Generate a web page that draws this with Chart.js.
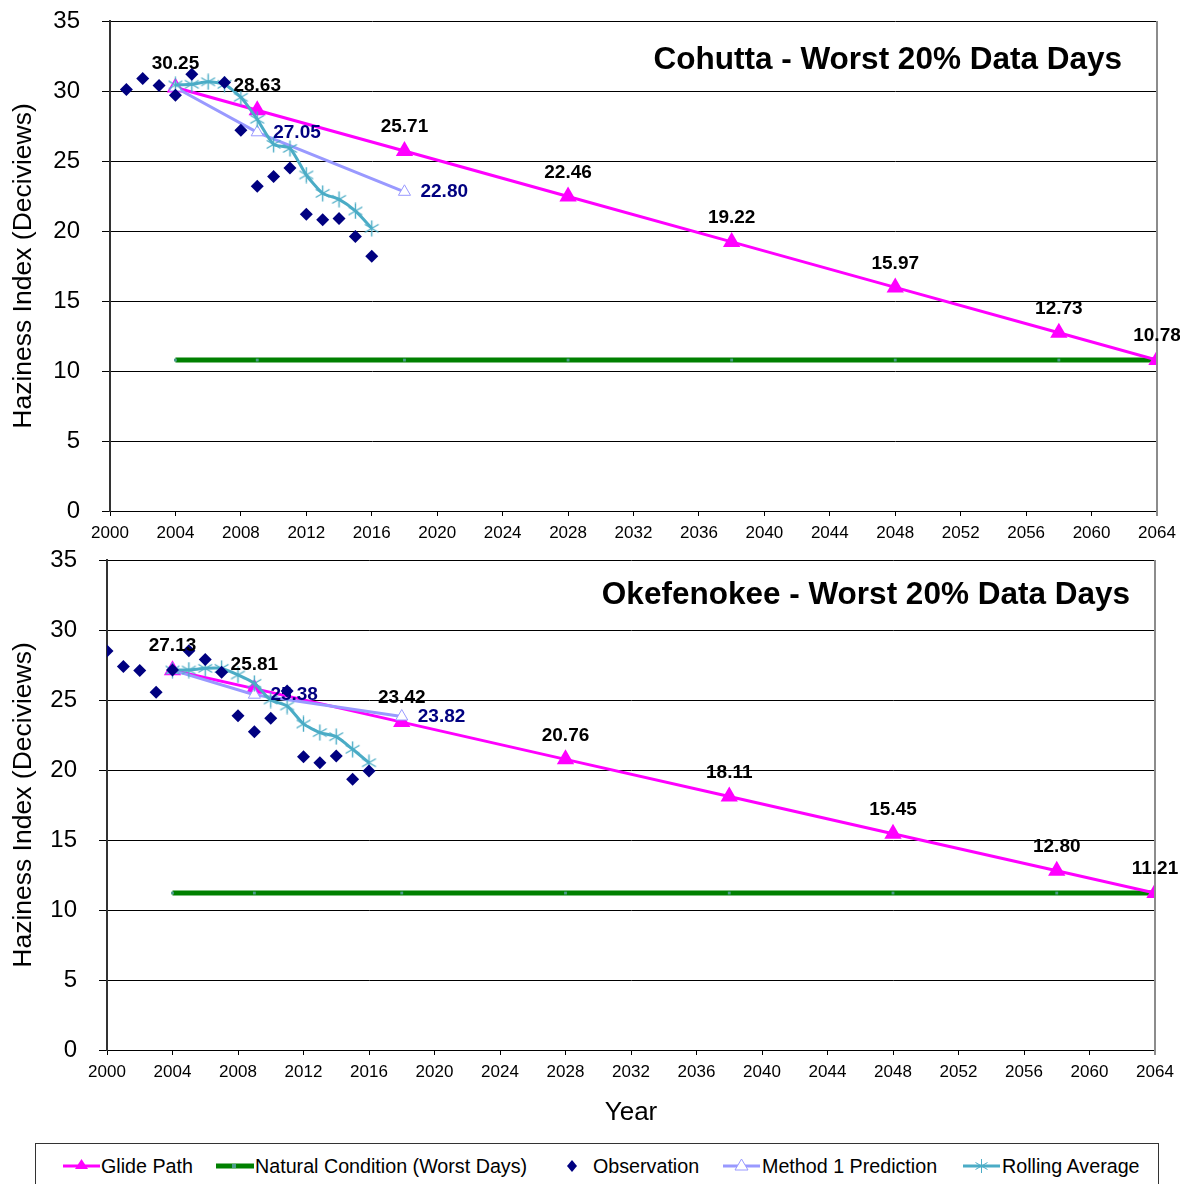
<!DOCTYPE html>
<html>
<head>
<meta charset="utf-8">
<script src="https://cdn.jsdelivr.net/npm/chart.js@4"></script>
<style>
  body { margin: 0; background: #fff; font-family: "Liberation Sans", Arial, sans-serif; }
  #wrap { position: relative; width: 1180px; height: 1184px; overflow: hidden; }
  .panel { position: absolute; left: 0; width: 1180px; }
  #legend { position: absolute; left: 35px; top: 1143px; width: 1124px; height: 60px;
            border: 1px solid #333; box-sizing: border-box; }
  .item { position: absolute; top: 10px; height: 24px; font-size: 19.7px; line-height: 24px; white-space: nowrap; }
  .item svg { position: absolute; left: 0; top: 0; }
  .item span { position: absolute; top: 0; }
</style>
</head>
<body>
<div id="wrap">
  <div class="panel" style="top:0;height:545px"><canvas id="topChart"></canvas></div>
  <div class="panel" style="top:545px;height:590px"><canvas id="bottomChart"></canvas></div>
  <div id="legend">
    <div class="item" style="left:26px">
      <svg width="40" height="24"><line x1="1" y1="12" x2="38" y2="12" stroke="#ff00ff" stroke-width="3"/><polygon points="19.5,5 26,15 13,15" fill="#ff00ff"/></svg>
      <span style="left:39px">Glide Path</span>
    </div>
    <div class="item" style="left:180px">
      <svg width="40" height="24"><line x1="0" y1="12" x2="38" y2="12" stroke="#008000" stroke-width="5"/><rect x="16" y="10" width="4" height="4" fill="#4c9c8c"/></svg>
      <span style="left:39px">Natural Condition (Worst Days)</span>
    </div>
    <div class="item" style="left:520px">
      <svg width="40" height="24"><polygon points="16,6 21,12 16,18 11,12" fill="#000080"/></svg>
      <span style="left:37px">Observation</span>
    </div>
    <div class="item" style="left:686px">
      <svg width="40" height="24"><line x1="1" y1="12" x2="38" y2="12" stroke="#9999ff" stroke-width="3"/><polygon points="19.5,5 26,16 13,16" fill="#fff" stroke="#9999ff" stroke-width="1"/></svg>
      <span style="left:40px">Method 1 Prediction</span>
    </div>
    <div class="item" style="left:926px">
      <svg width="40" height="24"><line x1="1" y1="12" x2="38" y2="12" stroke="#4bacc6" stroke-width="3"/>
        <g stroke="#4bacc6" stroke-width="1"><line x1="19.5" y1="5" x2="19.5" y2="19"/><line x1="13.5" y1="8.5" x2="25.5" y2="15.5"/><line x1="13.5" y1="15.5" x2="25.5" y2="8.5"/></g></svg>
      <span style="left:40px">Rolling Average</span>
    </div>
  </div>
</div>
<script>
// --- data ---
const glideYears = [2004, 2009, 2018, 2028, 2038, 2048, 2058, 2064];
const methodYears = [2004, 2009, 2018];
const rollYears = [2004, 2005, 2006, 2007, 2008, 2009, 2010, 2011, 2012, 2013, 2014, 2015, 2016];

// Cohutta
const cohuttaObsYears = [2001, 2002, 2003, 2004, 2005, 2007, 2008, 2009, 2010, 2011, 2012, 2013, 2014, 2015, 2016];
const cohuttaObs = [30.1, 30.9, 30.4, 29.7, 31.2, 30.6, 27.2, 23.2, 23.9, 24.5, 21.2, 20.8, 20.9, 19.6, 18.2];
const cohuttaRoll = [30.43, 30.48, 30.66, 30.48, 29.55, 27.98, 26.19, 25.9, 24.0, 22.69, 22.26, 21.43, 20.19];
const cohuttaGlide = [30.25, 28.63, 25.71, 22.46, 19.22, 15.97, 12.73, 10.78];
const cohuttaNatural = [10.78, 10.78, 10.78, 10.78, 10.78, 10.78, 10.78, 10.78];
const cohuttaMethod = [30.25, 27.05, 22.80];

// Okefenokee
const okeObsYears = [2000, 2001, 2002, 2003, 2004, 2005, 2006, 2007, 2008, 2009, 2010, 2011, 2012, 2013, 2014, 2015, 2016];
const okeObs = [28.5, 27.4, 27.1, 25.55, 27.14, 28.52, 27.9, 26.98, 23.88, 22.74, 23.69, 25.64, 20.95, 20.52, 21.0, 19.34, 19.93];
const okeRoll = [27.14, 27.14, 27.26, 27.26, 26.79, 26.19, 25.0, 24.57, 23.29, 22.67, 22.38, 21.48, 20.52];
const okeGlide = [27.13, 25.81, 23.42, 20.76, 18.11, 15.45, 12.80, 11.21];
const okeNatural = [11.21, 11.21, 11.21, 11.21, 11.21, 11.21, 11.21, 11.21];
const okeMethod = [27.13, 25.38, 23.82];

const yTicks = [0, 5, 10, 15, 20, 25, 30, 35];

const FONT = '"Liberation Sans", Arial, sans-serif';

function pts(xs, ys) {
  return xs.map((x, i) => ({ x: x, y: ys[i] }));
}

// 6-arm asterisk like the Excel marker
function asterisk(color) {
  const c = document.createElement('canvas');
  c.width = 17; c.height = 17;
  const g = c.getContext('2d');
  g.strokeStyle = color;
  g.lineWidth = 1.4;
  [90, 30, 150].forEach(a => {
    const r = a * Math.PI / 180;
    g.beginPath();
    g.moveTo(8.5 - 8 * Math.cos(r), 8.5 - 8 * Math.sin(r));
    g.lineTo(8.5 + 8 * Math.cos(r), 8.5 + 8 * Math.sin(r));
    g.stroke();
  });
  return c;
}
const starMark = asterisk('#4bacc6');

// labels, panel title and the grey right border
const extras = {
  id: 'extras',
  afterDatasetsDraw(chart, args, opts) {
    const c = chart.ctx;
    const area = chart.chartArea;
    c.save();
    c.strokeStyle = '#8c8c8c';
    c.lineWidth = 2;
    c.beginPath();
    c.moveTo(area.right, area.top);
    c.lineTo(area.right, area.bottom + 5);
    c.stroke();

    c.font = 'bold 19px ' + FONT;
    c.textBaseline = 'middle';
    chart.data.datasets.forEach((ds, di) => {
      const meta = chart.getDatasetMeta(di);
      if (ds.label === 'Glide Path') {
        c.fillStyle = '#000';
        c.textAlign = 'center';
        meta.data.forEach((p, i) => c.fillText(ds.data[i].y.toFixed(2), p.x, p.y - 24));
      }
      if (ds.label === 'Method 1 Prediction') {
        c.fillStyle = '#000080';
        c.textAlign = 'left';
        meta.data.forEach((p, i) => {
          if (i > 0) c.fillText(ds.data[i].y.toFixed(2), p.x + 16, p.y);
        });
      }
    });

    c.font = 'bold 31.5px ' + FONT;
    c.fillStyle = '#000';
    c.textAlign = 'right';
    c.fillText(opts.text, area.right - opts.dx, area.top + opts.dy);
    c.restore();
  }
};

function makeChart(id, s) {
  const ctx = document.getElementById(id);
  return new Chart(ctx, {
    type: 'scatter',
    data: {
      datasets: [
        {
          label: 'Observation',
          data: pts(s.obsYears, s.obs),
          showLine: false,
          pointStyle: 'rectRot',
          pointRadius: 6.5,
          backgroundColor: '#000080',
          borderColor: '#000080',
          borderWidth: 0,
          order: 1
        },
        {
          label: 'Rolling Average',
          data: pts(rollYears, s.roll),
          showLine: true,
          tension: 0.2,
          borderColor: '#4bacc6',
          borderWidth: 3,
          pointStyle: starMark,
          pointRadius: 8,
          order: 2
        },
        {
          label: 'Method 1 Prediction',
          data: pts(methodYears, s.method),
          showLine: true,
          borderColor: '#9999ff',
          borderWidth: 3,
          pointStyle: 'triangle',
          pointRadius: 7,
          pointBorderWidth: 1,
          pointBackgroundColor: '#ffffff',
          pointBorderColor: '#9999ff',
          order: 3
        },
        {
          label: 'Glide Path',
          data: pts(glideYears, s.glide),
          showLine: true,
          borderColor: '#ff00ff',
          backgroundColor: '#ff00ff',
          borderWidth: 3,
          pointStyle: 'triangle',
          pointRadius: 7,
          order: 4
        },
        {
          label: 'Natural Condition (Worst Days)',
          data: pts(glideYears, s.natural),
          showLine: true,
          borderColor: '#008000',
          borderWidth: 5,
          pointStyle: 'rect',
          pointRadius: 2,
          pointBackgroundColor: '#4c9c8c',
          pointBorderWidth: 0,
          order: 5
        }
      ]
    },
    options: {
      responsive: true,
      maintainAspectRatio: false,
      animation: false,
      layout: { padding: s.padding },
      plugins: {
        legend: { display: false },
        tooltip: { enabled: false },
        extras: { text: s.title, dx: s.titleDx, dy: s.titleDy }
      },
      scales: {
        x: {
          type: 'linear',
          min: 2000,
          max: 2064,
          ticks: { stepSize: 4, color: '#000', font: { family: FONT, size: 17 }, padding: 7,
                   callback: v => String(v), maxRotation: 0 },
          grid: { drawOnChartArea: false, color: '#000', tickLength: 5 },
          border: { color: '#000', width: 1 },
          title: { display: s.xTitle, text: 'Year', color: '#000', font: { family: FONT, size: 26 },
                   padding: { top: 4, bottom: 7 } },
          afterFit: sc => {
            sc.height = s.xHeight;
            sc.paddingLeft = 10;
            sc.paddingRight = 10;
          }
        },
        y: {
          min: 0,
          max: 35,
          afterBuildTicks: sc => { sc.ticks = yTicks.map(v => ({ value: v })); },
          ticks: { color: '#000', font: { family: FONT, size: 24 }, padding: 22 },
          grid: { color: '#000', lineWidth: 1, tickLength: 8 },
          border: { color: '#333', width: 2 },
          title: { display: true, text: 'Haziness Index (Deciviews)', color: '#000',
                   font: { family: FONT, size: 26.5 }, padding: { top: 8, bottom: 0 } },
          afterFit: sc => {
            sc.width = s.yWidth;
            sc.paddingTop = 14;
            sc.paddingBottom = 14;
          }
        }
      }
    },
    plugins: [extras]
  });
}

makeChart('topChart', {
  obsYears: cohuttaObsYears, obs: cohuttaObs, roll: cohuttaRoll, method: cohuttaMethod,
  glide: cohuttaGlide, natural: cohuttaNatural,
  title: 'Cohutta - Worst 20% Data Days', titleDx: 35, titleDy: 39,
  padding: { top: 21, right: 23, left: 0, bottom: 0 }, xHeight: 34, yWidth: 110, xTitle: false
});

makeChart('bottomChart', {
  obsYears: okeObsYears, obs: okeObs, roll: okeRoll, method: okeMethod,
  glide: okeGlide, natural: okeNatural,
  title: 'Okefenokee - Worst 20% Data Days', titleDx: 25, titleDy: 35,
  padding: { top: 15, right: 25, left: 0, bottom: 0 }, xHeight: 85, yWidth: 107, xTitle: true
});
</script>
</body>
</html>
